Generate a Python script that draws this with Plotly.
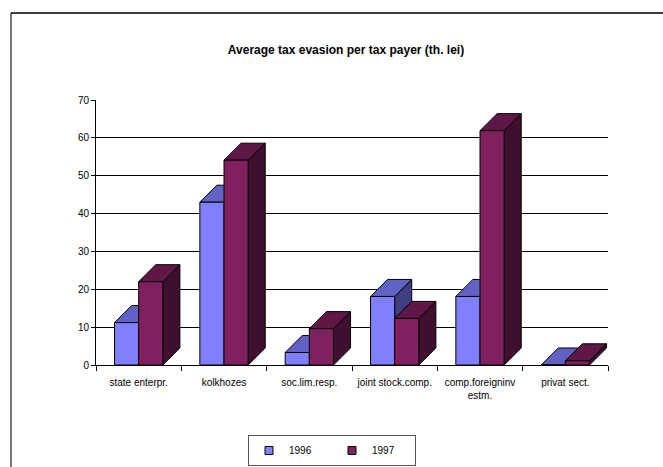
import plotly.graph_objects as go

# Average tax evasion per tax payer, thousand lei
categories = ["state enterpr.", "kolkhozes", "soc.lim.resp.", "joint stock.comp.",
              "comp.foreigninv<br>estm.", "privat sect."]
years = ["1996", "1997"]
values_1996 = [11.2, 43.0, 3.3, 18.1, 18.1, 0.0]
values_1997 = [22.0, 54.1, 9.6, 12.3, 61.9, 1.1]
y_ticks = [0, 10, 20, 30, 40, 50, 60, 70]

# face colours per series: front, top, side
palette = {
    "1996": ("#8080FF", "#6262C4", "#3F3F80"),
    "1997": ("#80205E", "#5E1746", "#3F0F2F"),
}

BAR_W = 0.283   # width of one column, in category units
DX = 0.2        # depth offset along x (category units)
DY = 4.5        # depth offset along y (value units)

# plot-area placement in the 663x467 page
L, R, T, B = 96, 55, 100, 102
W_PAGE, H_PAGE = 663, 467
PW, PH = W_PAGE - L - R, H_PAGE - T - B


def px_x(px):
    return (px - L) / PW


def px_y(py):
    return (H_PAGE - B - py) / PH


fig = go.Figure()


def poly(xs, ys, color):
    fig.add_trace(go.Scatter(
        x=xs + [xs[0]], y=ys + [ys[0]], mode="lines", fill="toself",
        fillcolor=color, line=dict(color="black", width=1),
        showlegend=False, hoverinfo="skip"))


series = [("1996", values_1996, -BAR_W), ("1997", values_1997, 0.0)]
for i, _ in enumerate(categories):
    for name, vals, off in series:
        v = vals[i]
        x0 = i + off
        x1 = x0 + BAR_W
        front, top, side = palette[name]
        # right side face
        poly([x1, x1 + DX, x1 + DX, x1], [0, DY, v + DY, v], side)
        # top face
        poly([x0, x1, x1 + DX, x0 + DX], [v, v, v + DY, v + DY], top)
        # front face
        poly([x0, x1, x1, x0], [0, 0, v, v], front)

# legend entries
for name in years:
    fig.add_trace(go.Scatter(
        x=[None], y=[None], mode="markers", name=name,
        marker=dict(symbol="square", size=8, color=palette[name][0],
                    line=dict(color="black", width=1))))

font = "Liberation Sans, Arial, sans-serif"

fig.update_layout(
    width=W_PAGE, height=H_PAGE,
    margin=dict(l=L, r=R, t=T, b=B, autoexpand=False),
    paper_bgcolor="white", plot_bgcolor="white",
    font=dict(family=font, size=10, color="black"),
    title=dict(text="<b>Average tax evasion per tax payer (th. lei)</b>",
               x=px_x(346), xref="paper", xanchor="center",
               y=1 - 50 / H_PAGE, yanchor="middle",
               font=dict(family=font, size=12, color="black")),
    xaxis=dict(range=[-0.5, 5.5], tickvals=list(range(len(categories))),
               ticktext=categories, ticks="", showgrid=False, zeroline=False,
               showline=True, linecolor="black", linewidth=1,
               ticklabelstandoff=8,
               minor=dict(tickvals=[k - 0.5 for k in range(len(categories) + 1)],
                          ticks="outside", ticklen=5, tickcolor="black",
                          showgrid=False),
               fixedrange=True),
    yaxis=dict(range=[0, 70], tickvals=y_ticks, ticks="outside", ticklen=4,
               tickcolor="black", showline=True, linecolor="black", linewidth=1,
               showgrid=True, gridcolor="black", gridwidth=1, zeroline=False,
               fixedrange=True),
    showlegend=True,
    legend=dict(orientation="h", x=px_x(248), xanchor="left",
                y=px_y(435), yanchor="top", xref="paper", yref="paper",
                bordercolor="#555", borderwidth=1, bgcolor="white",
                entrywidth=38, font=dict(size=10)),
    shapes=[
        dict(type="line", xref="paper", yref="paper",
             x0=px_x(11), x1=px_x(11), y0=px_y(13), y1=px_y(470),
             line=dict(color="#777", width=2)),
        dict(type="line", xref="paper", yref="paper",
             x0=px_x(11), x1=px_x(670), y0=px_y(13), y1=px_y(13),
             line=dict(color="black", width=1.5)),
    ],
)

fig.write_html("out.html")
